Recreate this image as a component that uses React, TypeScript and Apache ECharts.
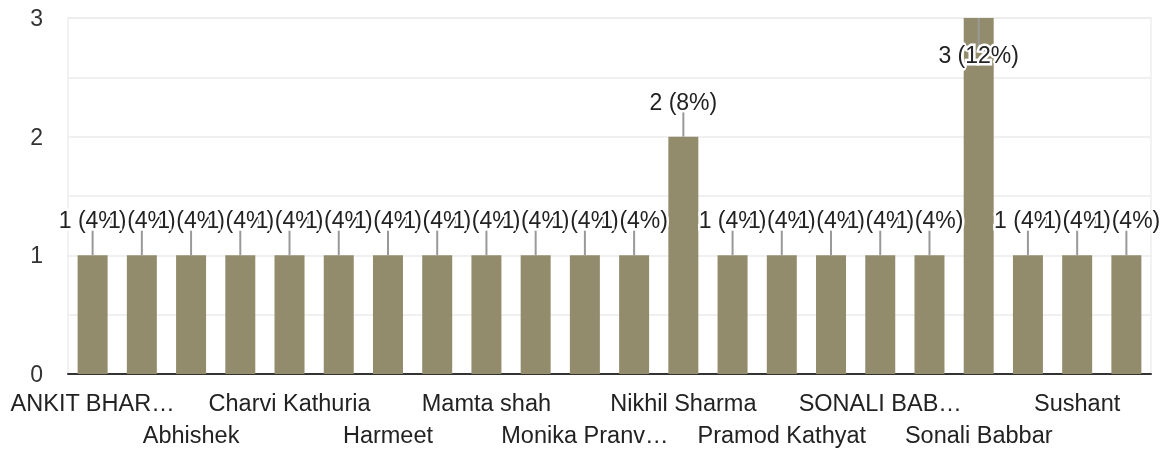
import React, { useEffect, useRef } from "react";
import * as echarts from "echarts";

const categories = [
  "ANKIT BHAR…", "Aarti", "Abhishek", "Anjali", "Charvi Kathuria", "Deepak",
  "Harmeet", "Kavita", "Mamta shah", "Manish", "Monika Pranv…", "Neha",
  "Nikhil Sharma", "Pooja", "Pramod Kathyat", "Rahul", "SONALI BAB…", "Shivani",
  "Sonali Babbar", "Sunil", "Sushant", "Vikas",
];
const counts = [1, 1, 1, 1, 1, 1, 1, 1, 1, 1, 1, 1, 2, 1, 1, 1, 1, 1, 3, 1, 1, 1];
const yTicks = [0, 1, 2, 3];

const FONT = "'Liberation Sans', Arial, sans-serif";
const BAR_COLOR = "#938c6c";

export default function App() {
  const ref = useRef<HTMLDivElement>(null);
  useEffect(() => {
    if (!ref.current) return;
    const chart = echarts.init(ref.current, null, { renderer: "svg" });
    const total = counts.reduce((a, b) => a + b, 0);
    chart.setOption({
      animation: false,
      textStyle: { fontFamily: FONT },
      grid: {
        left: 68, right: 12, top: 18, bottom: 77,
        show: true, borderColor: "#eeeeee", borderWidth: 1.5,
      },
      xAxis: {
        type: "category",
        data: categories,
        axisLine: { lineStyle: { color: "#333", width: 2 } },
        axisTick: { show: false },
        axisLabel: {
          interval: 0,
          showMinLabel: true,
          showMaxLabel: true,
          fontSize: 23.5,
          fontFamily: FONT,
          color: "#222",
          lineHeight: 32,
          margin: 13,
          hideOverlap: false,
          formatter: (v: string, i: number) =>
            i % 2 === 1 ? "" : i % 4 === 2 ? "\n" + v : v,
        },
      },
      yAxis: {
        type: "value",
        min: yTicks[0],
        max: yTicks[yTicks.length - 1],
        interval: 0.5,
        axisLine: { show: false },
        axisTick: { show: false },
        splitLine: { lineStyle: { color: "#ebebeb", width: 1.5 } },
        axisLabel: {
          fontSize: 23,
          fontFamily: FONT,
          color: "#333",
          margin: 25,
          formatter: (v: number) => (yTicks.includes(v) ? String(v) : ""),
        },
      },
      series: [
        {
          type: "bar",
          data: counts,
          barWidth: 30,
          itemStyle: { color: BAR_COLOR },
          z: 2,
        },
        {
          type: "custom",
          z: 3,
          data: counts.map((v, i) => [i, v]),
          renderItem: (params: any, api: any) => {
            const idx = api.value(0);
            const v = api.value(1);
            const pt = api.coord([idx, v]);
            const cs = params.coordSys;
            const x = pt[0];
            const top = pt[1];
            const label = `${v} (${Math.round((v / total) * 100)}%)`;
            const flip = top - 50 < cs.y;
            const textY = flip ? top + 37 : top - 35;
            const lineEnd = flip ? top + 28 : top - 25;
            return {
              type: "group",
              children: [
                {
                  type: "line",
                  shape: { x1: x, y1: top, x2: x, y2: lineEnd },
                  style: { stroke: "#999", lineWidth: 2 },
                },
                {
                  type: "text",
                  style: {
                    text: label,
                    x,
                    y: textY,
                    align: "center",
                    verticalAlign: "middle",
                    font: `23px ${FONT}`,
                    fill: "#222",
                    stroke: "#fff",
                    lineWidth: 5,
                    strokeFirst: true,
                  },
                },
              ],
            };
          },
        },
      ],
    });
    return () => chart.dispose();
  }, []);
  return (
    <div
      ref={ref}
      style={{ position: "fixed", left: 0, top: 0, width: 1163, height: 451 }}
    />
  );
}
